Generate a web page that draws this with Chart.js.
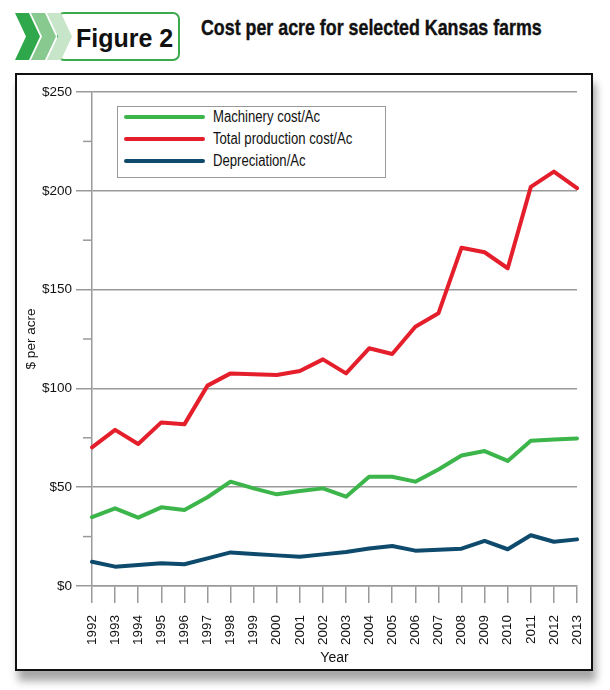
<!DOCTYPE html>
<html>
<head>
<meta charset="utf-8">
<script src="https://cdn.jsdelivr.net/npm/chart.js@4.4.0/dist/chart.umd.min.js"></script>
<style>
  body { margin: 0; background: #fff; width: 610px; height: 690px; position: relative; overflow: hidden;
    font-family: 'Liberation Sans', Arial, sans-serif; }
  #badge { position: absolute; left: 0; top: 0; }
  #titulo { position: absolute; left: 201px; top: 15px; font-size: 22px; font-weight: bold; color: #111; white-space: nowrap;
    transform: scaleX(0.81); transform-origin: 0 0; -webkit-text-stroke: 0.4px #111; }
  #moldura { position: absolute; left: 15px; top: 73px; width: 574px; height: 594px; border: 2px solid #111; background: #fff;
    box-shadow: 3px 10px 8px rgba(0,0,0,0.35); }
  #moldura canvas { position: absolute; left: 0; top: 0; }
  #legenda { position: absolute; left: 117px; top: 106px; width: 267px; height: 70px; border: 1.5px solid #999; background: #fff; }
  .linha { position: absolute; left: 6px; width: 81px; height: 4px; border-radius: 2px; }
  .rotulo { position: absolute; left: 95px; font-size: 16px; color: #111; line-height: 20px; white-space: nowrap;
    transform: scaleX(0.82); transform-origin: 0 0; }
</style>
</head>
<body>
<svg id="badge" width="190" height="65">
  <rect x="58" y="13" width="121" height="47" rx="6" ry="6" fill="#fff" stroke="#3aaa4a" stroke-width="2"/>
  <polygon points="15,13 29,13 40,36.5 29,60 15,60 26,36.5" fill="#2ea84a"/>
  <polygon points="31,13 45,13 56,36.5 45,60 31,60 42,36.5" fill="#87c98f"/>
  <polygon points="47,13 61,13 72,36.5 61,60 47,60 58,36.5" fill="#c6e5c9"/>
  <text x="76" y="47" font-family="'Liberation Sans', Arial, sans-serif" font-weight="bold" font-size="25" fill="#111">Figure 2</text>
</svg>
<div id="titulo">Cost per acre for selected Kansas farms</div>
<div id="moldura"><canvas id="grafico" width="574" height="594"></canvas></div>
<div id="legenda"></div>
<script>
// Dados
const anos = ["1992","1993","1994","1995","1996","1997","1998","1999","2000","2001","2002",
  "2003","2004","2005","2006","2007","2008","2009","2010","2011","2012","2013"]
const custoMaquinas = [34.8, 39.3, 34.6, 39.8, 38.5, 44.9, 52.8, 49.4, 46.4, 48.1, 49.4,
  45.2, 55.3, 55.3, 52.8, 59.0, 66.0, 68.3, 63.3, 73.5, 74.2, 74.7]
const custoTotal = [70.2, 79.0, 71.9, 82.8, 81.8, 101.4, 107.6, 107.1, 106.8, 108.8, 114.7,
  107.6, 120.3, 117.4, 131.2, 138.0, 171.2, 168.9, 160.8, 202.0, 209.7, 201.3]
const depreciacao = [12.3, 9.8, 10.6, 11.5, 11.0, 14.0, 17.0, 16.2, 15.5, 14.8, 16.0,
  17.2, 19.0, 20.2, 17.9, 18.4, 18.9, 22.8, 18.6, 25.7, 22.4, 23.6]
const nomesSeries = ["Machinery cost/Ac", "Total production cost/Ac", "Depreciation/Ac"]
const cores = ["#3cb54b", "#e41f2b", "#0d4a6c"]

const cinza = "#9a9a9a"
const fonte = "'Liberation Sans', Arial, sans-serif"

// Legenda em HTML
const legenda = document.getElementById("legenda")
nomesSeries.forEach((nome, i) => {
  const y = 8 + i * 22
  legenda.innerHTML += `<div class="linha" style="top:${y}px;background:${cores[i]}"></div>` +
    `<div class="rotulo" style="top:${y - 8}px">${nome}</div>`
})

// Marcas menores no eixo y ($25, $75, ...)
const marcasMenores = {
  id: "marcasMenores",
  afterDraw(chart) {
    const esc = chart.scales.y
    const ctx = chart.ctx
    ctx.save()
    ctx.strokeStyle = cinza
    ctx.lineWidth = 1.5
    for (let v = 25; v < 250; v += 50) {
      const py = esc.getPixelForValue(v)
      ctx.beginPath()
      ctx.moveTo(esc.right - 9, py)
      ctx.lineTo(esc.right, py)
      ctx.stroke()
    }
    ctx.restore()
  }
}

const series = [custoMaquinas, custoTotal, depreciacao]

new Chart(document.getElementById("grafico"), {
  type: "line",
  data: {
    labels: anos,
    datasets: series.map((d, i) => ({
      label: nomesSeries[i],
      data: d,
      borderColor: cores[i],
      borderWidth: 4,
      pointRadius: 0,
      tension: 0,
      borderJoinStyle: "round",
      borderCapStyle: "round",
      fill: false
    }))
  },
  options: {
    responsive: false,
    animation: false,
    layout: { padding: { left: 0, right: 14, top: 17, bottom: 0 } },
    plugins: { legend: { display: false }, tooltip: { enabled: false } },
    scales: {
      x: {
        offset: false,
        afterFit: s => { s.height = 83; s.paddingLeft = 0; s.paddingRight = 0 },
        grid: { drawOnChartArea: false, color: cinza, lineWidth: 1.5, tickLength: 17 },
        border: { color: cinza, width: 1.5 },
        ticks: { minRotation: 90, maxRotation: 90, autoSkip: false, padding: 12, color: "#111",
          font: { family: fonte, size: 13.5 } },
        title: { display: true, text: "Year", color: "#111", padding: { top: 2, bottom: 2 },
          font: { family: fonte, size: 14 } }
      },
      y: {
        min: 0,
        max: 250,
        afterFit: s => { s.width = 75 },
        grid: {
          color: c => (c.tick && c.tick.value % 50 === 0) ? cinza : "transparent",
          tickColor: c => (c.tick && c.tick.value % 50 === 0) ? cinza : "transparent",
          lineWidth: 1.5,
          tickLength: 16
        },
        border: { color: cinza, width: 1.5 },
        ticks: {
          stepSize: 25,
          padding: 4,
          color: "#111",
          font: { family: fonte, size: 13.5 },
          callback: v => v % 50 === 0 ? "$" + v : ""
        },
        title: { display: true, text: "$ per acre", color: "#111", padding: { top: 6, bottom: 0 },
          font: { family: fonte, size: 13.5 } }
      }
    }
  },
  plugins: [marcasMenores]
})
</script>
</body>
</html>
